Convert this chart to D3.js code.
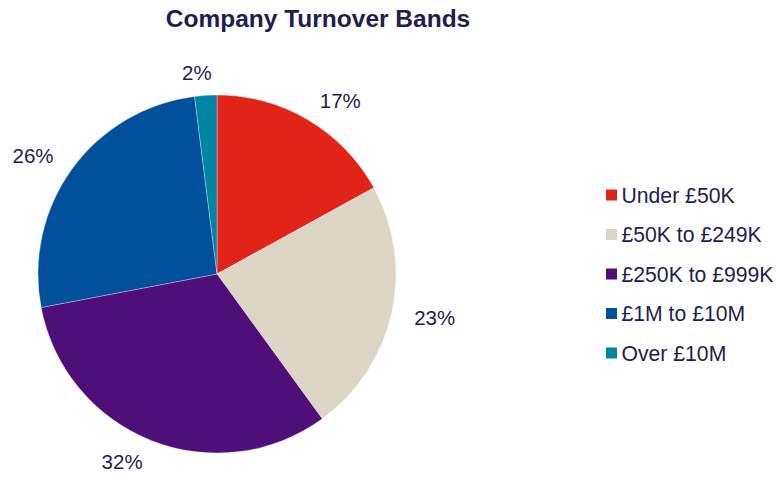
<!DOCTYPE html>
<html>
<head>
<meta charset="utf-8">
<script src="https://cdn.jsdelivr.net/npm/d3@7"></script>
<style>
  html, body { margin: 0; padding: 0; background: #fff; }
  svg { display: block; font-family: "Liberation Sans", Arial, sans-serif; }
</style>
</head>
<body>
<svg id="chart" width="776" height="477"></svg>
<script>
// Share of companies by turnover band (percent)
const bands = ["Under £50K", "£50K to £249K", "£250K to £999K", "£1M to £10M", "Over £10M"];
const shares = [17, 23, 32, 26, 2];
const bandColors = ["#e2231a", "#ddd5c6", "#4f0e78", "#00509b", "#0086a3"];

const textColor = "#221d4f";
const svg = d3.select("#chart");

svg.append("text")
  .attr("x", 318).attr("y", 27)
  .attr("text-anchor", "middle")
  .attr("font-size", 24.5).attr("font-weight", "bold")
  .attr("fill", textColor)
  .text("Company Turnover Bands");

const cx = 217, cy = 274, radius = 179;
const data = bands.map((b, i) => ({ band: b, value: shares[i] }));

const pie = d3.pie().value(d => d.value).sort(null);
const arc = d3.arc().innerRadius(0).outerRadius(radius);
const arcs = pie(data);

const g = svg.append("g").attr("transform", `translate(${cx},${cy})`);

g.selectAll("path.slice")
  .data(arcs)
  .enter().append("path")
  .attr("class", "slice")
  .attr("d", arc)
  .attr("fill", (d, i) => bandColors[i])
  .attr("stroke", "#ffffff")
  .attr("stroke-opacity", 0.5)
  .attr("stroke-width", 0.6);

// Percentage labels just outside each slice
const labelR = 202;
const labels = g.selectAll("text.pct")
  .data(arcs)
  .enter().append("text")
  .attr("class", "pct")
  .attr("text-anchor", "middle")
  .attr("font-size", 20.5)
  .attr("fill", textColor)
  .text(d => d.data.value + "%");

labels.each(function(d) {
  const a = (d.startAngle + d.endAngle) / 2;
  const s = Math.sin(a), c = Math.cos(a);
  const w = this.getComputedTextLength();
  const push = Math.max(-1, Math.min(1, s * 8)) * w / 2;
  d3.select(this)
    .attr("x", labelR * s + push)
    .attr("y", -labelR * c)
    .attr("dy", "0.36em");
});

// Legend
const legend = svg.append("g").attr("transform", "translate(606,195)");
const rowH = 39.5;
const rows = legend.selectAll("g.row")
  .data(bands)
  .enter().append("g")
  .attr("class", "row")
  .attr("transform", (d, i) => `translate(0,${i * rowH})`);

rows.append("rect")
  .attr("x", 0).attr("y", -5.5)
  .attr("width", 11).attr("height", 11)
  .attr("fill", (d, i) => bandColors[i]);

rows.append("text")
  .attr("x", 15.5).attr("y", 0).attr("dy", "0.36em")
  .attr("font-size", 21.2)
  .attr("fill", textColor)
  .text(d => d);
</script>
</body>
</html>
